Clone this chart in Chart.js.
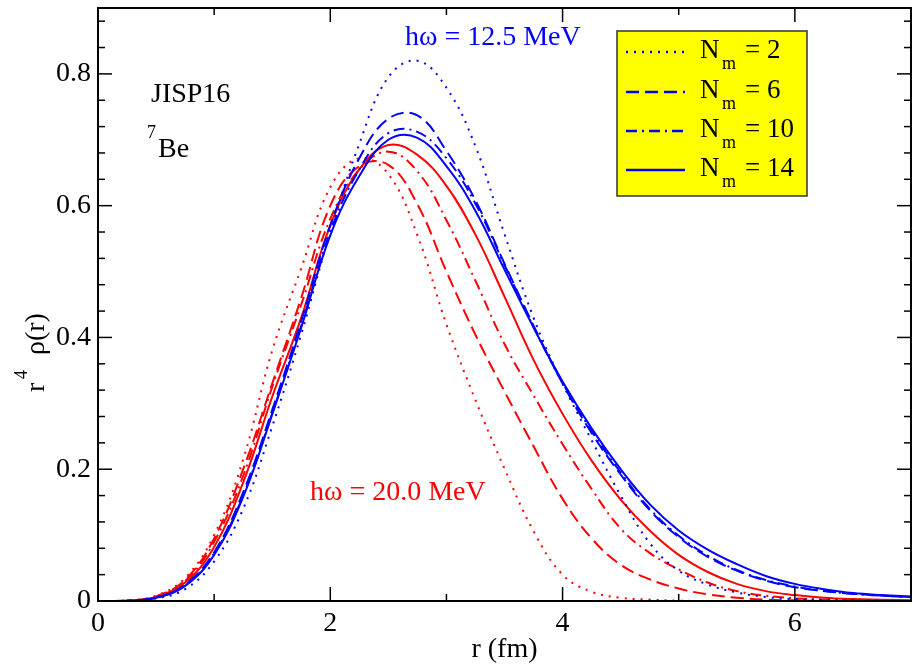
<!DOCTYPE html>
<html><head><meta charset="utf-8">
<script src="https://cdn.jsdelivr.net/npm/chart.js@4/dist/chart.umd.min.js"></script>
<style>html,body{margin:0;padding:0;background:#fff}#wrap{width:912px;height:664px}</style>
</head><body><div id="wrap"><canvas id="c" width="912" height="664"></canvas></div>
<script>
// r (fm)
const radius = [0,0.25,0.5,0.75,1,1.25,1.5,1.75,2,2.25,2.5,2.75,3,3.25,3.5,3.75,4,4.25,4.5,4.75,5,5.25,5.5,5.75,6,6.25,6.5,6.75,7];
// hbar omega = 12.5 MeV (blue)
const hw125_nm2  = [0,0.0002,0.004,0.018,0.06,0.14,0.265,0.405,0.56,0.694,0.795,0.82,0.779,0.69,0.557,0.43,0.33,0.244,0.16,0.088,0.046,0.025,0.013,0.006,0.003,0.002,0.001,0.0005,0];
const hw125_nm6  = [0,0.0003,0.005,0.025,0.074,0.165,0.29,0.425,0.57,0.672,0.732,0.737,0.683,0.608,0.512,0.418,0.33,0.255,0.192,0.138,0.097,0.067,0.046,0.031,0.021,0.015,0.011,0.008,0.006];
const hw125_nm10 = [0,0.0003,0.005,0.024,0.072,0.16,0.285,0.418,0.56,0.655,0.71,0.712,0.672,0.603,0.51,0.416,0.331,0.258,0.195,0.14,0.099,0.069,0.047,0.032,0.022,0.015,0.011,0.008,0.006];
const hw125_nm14 = [0,0.0003,0.005,0.023,0.07,0.158,0.283,0.415,0.555,0.645,0.70,0.703,0.66,0.592,0.503,0.415,0.333,0.262,0.2,0.147,0.107,0.078,0.056,0.038,0.026,0.018,0.012,0.009,0.007];
// hbar omega = 20.0 MeV (red)
const hw20_nm2  = [0,0.0005,0.008,0.035,0.10,0.215,0.38,0.505,0.628,0.672,0.648,0.555,0.42,0.305,0.201,0.106,0.04,0.014,0.005,0.002,0.0005,0,0,0,0,0,0,0,0];
const hw20_nm6  = [0,0.0005,0.007,0.032,0.095,0.20,0.33,0.46,0.60,0.66,0.662,0.602,0.50,0.404,0.318,0.235,0.155,0.095,0.055,0.033,0.019,0.01,0.005,0.002,0.001,0,0,0,0];
const hw20_nm10 = [0,0.0004,0.006,0.03,0.09,0.19,0.325,0.45,0.58,0.655,0.682,0.652,0.578,0.486,0.39,0.312,0.238,0.17,0.11,0.073,0.048,0.028,0.015,0.008,0.004,0.002,0.001,0,0];
const hw20_nm14 = [0,0.0004,0.006,0.028,0.082,0.18,0.31,0.43,0.57,0.655,0.692,0.677,0.63,0.556,0.462,0.366,0.284,0.213,0.154,0.107,0.07,0.044,0.026,0.015,0.009,0.005,0.003,0.002,0.001];

const nmValues = ['2','6','10','14'];
const xTicks = [0,2,4,6];
const xTickLabels = ['0','2','4','6'];
const xMinorTicks = [1,3,5,7];
const yTicks = [0,0.2,0.4,0.6,0.8];
const yTickLabels = ['0','0.2','0.4','0.6','0.8'];
const yMinorTicks = [0.04,0.08,0.12,0.16,0.24,0.28,0.32,0.36,0.44,0.48,0.52,0.56,0.64,0.68,0.72,0.76,0.84,0.88];

const BLUE = '#0000ff', RED = '#ff0000';
const dashes = [[2,6],[13,6],[11,5,2,5],[]];
const FONT = '"Liberation Serif", "Times New Roman", serif';

function mk(label, arr, color, dash){
  return {label, data: radius.map((r,i)=>({x:r,y:arr[i]})), borderColor:color, borderWidth:2,
    borderDash:dash, pointRadius:0, tension:0.4, fill:false};
}
const datasets = [
  mk('12.5 Nm=2', hw125_nm2, BLUE, dashes[0]),
  mk('12.5 Nm=6', hw125_nm6, BLUE, dashes[1]),
  mk('12.5 Nm=10', hw125_nm10, BLUE, dashes[2]),
  mk('12.5 Nm=14', hw125_nm14, BLUE, dashes[3]),
  mk('20 Nm=2', hw20_nm2, RED, dashes[0]),
  mk('20 Nm=6', hw20_nm6, RED, dashes[1]),
  mk('20 Nm=10', hw20_nm10, RED, dashes[2]),
  mk('20 Nm=14', hw20_nm14, RED, dashes[3]),
];

const decor = {
  id:'decor',
  afterDraw(chart){
    const {ctx, chartArea:a, scales:{x,y}} = chart;
    ctx.save();
    // frame
    ctx.strokeStyle='#000'; ctx.lineWidth=2; ctx.setLineDash([]);
    ctx.strokeRect(a.left, a.top, a.right-a.left, a.bottom-a.top);
    ctx.lineWidth=1.5;
    const tick=(x1,y1,x2,y2)=>{ctx.beginPath();ctx.moveTo(x1,y1);ctx.lineTo(x2,y2);ctx.stroke();};
    xTicks.forEach(v=>{const p=x.getPixelForValue(v); tick(p,a.bottom,p,a.bottom-14); tick(p,a.top,p,a.top+14);});
    xMinorTicks.forEach(v=>{const p=x.getPixelForValue(v); tick(p,a.bottom,p,a.bottom-7); tick(p,a.top,p,a.top+7);});
    yTicks.forEach(v=>{const p=y.getPixelForValue(v); tick(a.left,p,a.left+14,p); tick(a.right,p,a.right-14,p);});
    yMinorTicks.forEach(v=>{const p=y.getPixelForValue(v); tick(a.left,p,a.left+7,p); tick(a.right,p,a.right-7,p);});

    // annotations
    ctx.textBaseline='alphabetic'; ctx.textAlign='left';
    ctx.fillStyle=BLUE; ctx.font='28px '+FONT;
    ctx.fillText('h\u03c9 = 12.5 MeV', 405, 45);
    ctx.fillStyle=RED;
    ctx.fillText('h\u03c9 = 20.0 MeV', 310, 500);
    ctx.fillStyle='#000'; ctx.font='28px '+FONT;
    ctx.fillText('JISP16', 151, 102);
    ctx.font='18px '+FONT; ctx.fillText('7', 147, 138);
    ctx.font='28px '+FONT; ctx.fillText('Be', 158, 157);

    // legend
    ctx.fillStyle='#ffff00'; ctx.fillRect(617,31,190,165);
    ctx.strokeStyle='#333'; ctx.lineWidth=1.5; ctx.strokeRect(617,31,190,165);
    const rows=[58,98,137,176];
    rows.forEach((b,i)=>{
      ctx.strokeStyle=BLUE; ctx.lineWidth=2.5; ctx.setLineDash(dashes[i]);
      ctx.beginPath(); ctx.moveTo(626,b-6); ctx.lineTo(685,b-6); ctx.stroke();
      ctx.setLineDash([]);
      ctx.fillStyle='#000'; ctx.font='27px '+FONT;
      ctx.fillText('N', 700, b);
      ctx.font='18px '+FONT; ctx.fillText('m', 722, b+11);
      ctx.font='27px '+FONT; ctx.fillText('= '+nmValues[i], 745, b);
    });

    // axis titles
    ctx.fillStyle='#000'; ctx.font='28px '+FONT; ctx.textAlign='center';
    ctx.fillText('r (fm)', (a.left+a.right)/2, 657);
    ctx.save();
    ctx.translate(44, 392); ctx.rotate(-Math.PI/2);
    ctx.textAlign='left';
    ctx.font='28px '+FONT; ctx.fillText('r', 0, 0);
    ctx.font='18px '+FONT; ctx.fillText('4', 13, -17);
    ctx.font='28px '+FONT; ctx.fillText('\u03c1(r)', 37, 0);
    ctx.restore();
    ctx.restore();
  }
};

new Chart(document.getElementById('c'), {
  type:'line',
  data:{datasets},
  options:{
    responsive:false, animation:false,
    layout:{padding:{top:8,right:1,left:0,bottom:0}},
    plugins:{legend:{display:false}, tooltip:{enabled:false}},
    scales:{
      x:{type:'linear', min:0, max:7,
        afterFit(s){s.height=63;},
        afterBuildTicks(s){s.ticks=xTicks.map(v=>({value:v}));},
        grid:{display:false, drawTicks:false}, border:{display:false},
        ticks:{font:{family:FONT,size:28}, color:'#000', padding:6, maxRotation:0, autoSkip:false,
          callback:(v,i)=>xTickLabels[i]}},
      y:{type:'linear', min:0, max:0.9,
        afterFit(s){s.width=98; s.paddingTop=0; s.paddingBottom=0;},
        afterBuildTicks(s){s.ticks=yTicks.map(v=>({value:v}));},
        grid:{display:false, drawTicks:false}, border:{display:false},
        ticks:{font:{family:FONT,size:28}, color:'#000', padding:7, autoSkip:false,
          callback:(v,i)=>yTickLabels[i]}}
    }
  },
  plugins:[decor]
});
</script></body></html>
